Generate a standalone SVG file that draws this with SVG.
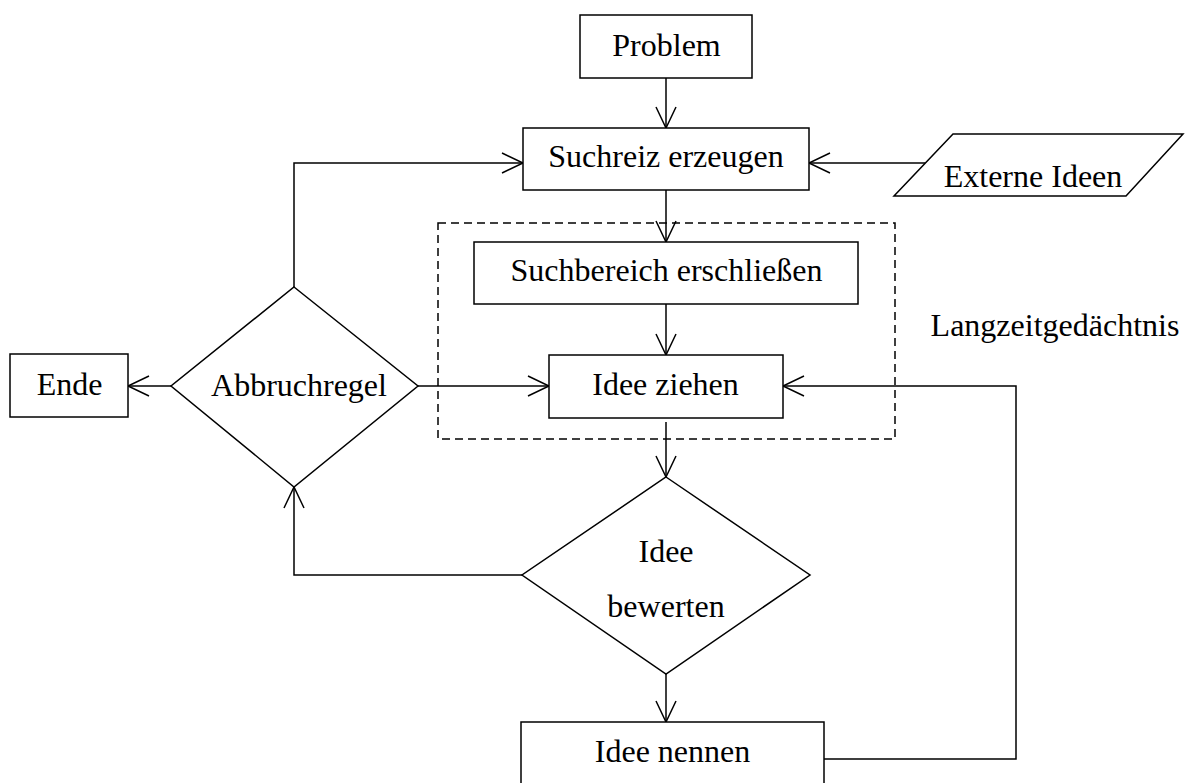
<svg xmlns="http://www.w3.org/2000/svg" width="1191" height="783" viewBox="0 0 1191 783">
<style>
.s{fill:#fff;stroke:#000;stroke-width:1.5}
.c{fill:none;stroke:#000;stroke-width:1.5}
.t{font-family:"Liberation Serif","Times New Roman",serif;font-size:32px;fill:#000;text-anchor:middle}
</style>
<defs>
<marker id="a" markerUnits="userSpaceOnUse" markerWidth="30" markerHeight="30" viewBox="-25 -15 30 30" refX="0" refY="0" orient="auto">
<path d="M-21,-10 L0,0 L-21,10" fill="none" stroke="#000" stroke-width="1.5"/>
</marker>
</defs>
<rect width="1191" height="783" fill="#fff"/>
<g id="group-langzeit">
<rect x="438" y="223" width="457" height="216" fill="none" stroke="#000" stroke-width="1.5" stroke-dasharray="8 5"/>
<text class="t" x="1055" y="336">Langzeitgedächtnis</text>
</g>
<g id="connectors">
<path class="c" d="M666,78 L666,128" marker-end="url(#a)"/>
<path class="c" d="M666,190 L666,242" marker-end="url(#a)"/>
<path class="c" d="M666,304 L666,355" marker-end="url(#a)"/>
<path class="c" d="M666,422 L666,477" marker-end="url(#a)"/>
<path class="c" d="M666,674 L666,722" marker-end="url(#a)"/>
<path class="c" d="M925,163 L809,163" marker-end="url(#a)"/>
<path class="c" d="M294,287 L294,163 L523,163" marker-end="url(#a)"/>
<path class="c" d="M171,386 L128,386" marker-end="url(#a)"/>
<path class="c" d="M418,386 L549,386" marker-end="url(#a)"/>
<path class="c" d="M522,575 L294,575 L294,487" marker-end="url(#a)"/>
<path class="c" d="M824,759 L1016,759 L1016,386 L783,386" marker-end="url(#a)"/>
</g>
<g id="problem">
<rect class="s" x="580" y="15" width="172" height="63"/>
<text class="t" x="666.5" y="56">Problem</text>
</g>
<g id="suchreiz">
<rect class="s" x="523" y="128" width="286" height="62"/>
<text class="t" x="666" y="167">Suchreiz erzeugen</text>
</g>
<g id="externe">
<polygon class="s" points="953,134 1183,134 1126,196 894,196"/>
<text class="t" x="1033" y="187">Externe Ideen</text>
</g>
<g id="suchbereich">
<rect class="s" x="474" y="242" width="384" height="62"/>
<text class="t" x="666.5" y="281">Suchbereich erschließen</text>
</g>
<g id="idee-ziehen">
<rect class="s" x="549" y="355" width="234" height="63"/>
<text class="t" x="665.5" y="395">Idee ziehen</text>
</g>
<g id="abbruch">
<polygon class="s" points="294,287 418,386 294,487 171,386"/>
<text class="t" x="299" y="396">Abbruchregel</text>
</g>
<g id="ende">
<rect class="s" x="10" y="354" width="118" height="63"/>
<text class="t" x="69.5" y="395">Ende</text>
</g>
<g id="bewerten">
<polygon class="s" points="666,477 810,575 666,674 522,575"/>
<text class="t" x="666" y="562">Idee</text>
<text class="t" x="666" y="617">bewerten</text>
</g>
<g id="nennen">
<rect class="s" x="521" y="722" width="303" height="70"/>
<text class="t" x="672.5" y="762">Idee nennen</text>
</g>
</svg>
